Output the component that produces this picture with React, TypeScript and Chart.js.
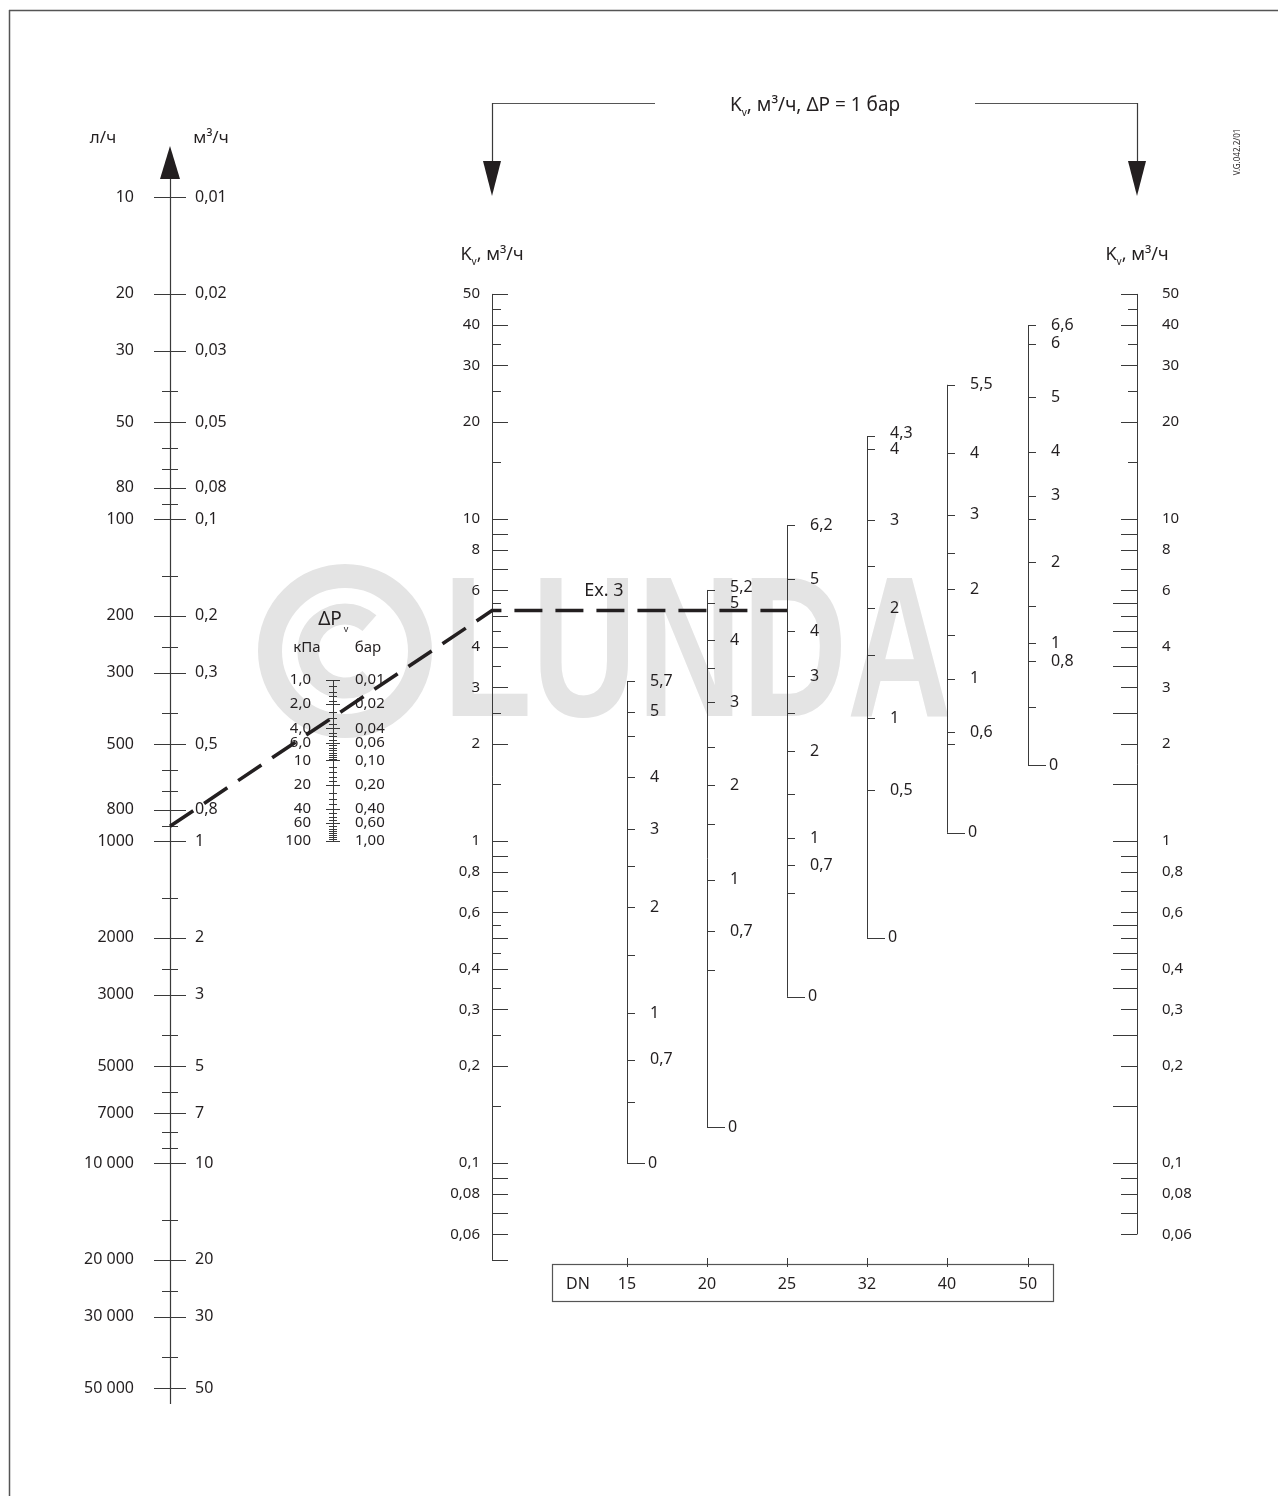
import React, { useEffect, useRef } from 'react';
import { Chart, registerables } from 'chart.js';

Chart.register(...registerables);

// ---------------- data ----------------
// Flow scale (м³/ч) with the л/ч twin labels
const FLOW_MAJOR = [0.01, 0.02, 0.03, 0.05, 0.08, 0.1, 0.2, 0.3, 0.5, 0.8, 1, 2, 3, 5, 7, 10, 20, 30, 50];
const FLOW_LABELS_LH = ['10', '20', '30', '50', '80', '100', '200', '300', '500', '800', '1000', '2000', '3000', '5000', '7000', '10 000', '20 000', '30 000', '50 000'];
const FLOW_LABELS_M3H = ['0,01', '0,02', '0,03', '0,05', '0,08', '0,1', '0,2', '0,3', '0,5', '0,8', '1', '2', '3', '5', '7', '10', '20', '30', '50'];
const FLOW_MINOR = [0.04, 0.06, 0.07, 0.09, 0.15, 0.25, 0.4, 0.6, 0.7, 0.9, 1.5, 2.5, 4, 6, 8, 9, 15, 25, 40];
const FLOW_AXIS_END = 56;

// Differential pressure scale (бар) with кПа twin labels
const DP_MAJOR = [0.01, 0.02, 0.04, 0.06, 0.1, 0.2, 0.4, 0.6, 1];
const DP_LABELS_KPA = ['1,0', '2,0', '4,0', '6,0', '10', '20', '40', '60', '100'];
const DP_LABELS_BAR = ['0,01', '0,02', '0,04', '0,06', '0,10', '0,20', '0,40', '0,60', '1,00'];
const DP_MINOR = [0.012, 0.014, 0.016, 0.018, 0.025, 0.03, 0.035, 0.045, 0.05, 0.055, 0.065, 0.07, 0.075, 0.08, 0.085, 0.09, 0.095,
  0.12, 0.14, 0.16, 0.18, 0.25, 0.3, 0.35, 0.45, 0.5, 0.55, 0.65, 0.7, 0.75, 0.8, 0.85, 0.9, 0.95];

// Kv scales (м³/ч)
const KV_TICKS = [50, 45, 40, 35, 30, 25, 20, 15, 10, 9, 8, 7, 6, 5.5, 5, 4.5, 4, 3.5, 3, 2.5, 2, 1.5, 1, 0.9, 0.8, 0.7, 0.6, 0.55, 0.5, 0.45, 0.4, 0.35, 0.3, 0.25, 0.2, 0.15, 0.1, 0.09, 0.08, 0.07, 0.06, 0.05];
const KV_LABELS = [50, 40, 30, 20, 10, 8, 6, 4, 3, 2, 1, 0.8, 0.6, 0.4, 0.3, 0.2, 0.1, 0.08, 0.06];
const KV_HALF = [45, 35, 25, 15, 5.5, 4.5, 3.5, 2.5, 1.5, 0.55, 0.45, 0.35, 0.25, 0.15];
const KV_RIGHT_LONG = [5.5, 4.5, 3.5, 2.5, 1.5, 1, 0.55, 0.45, 0.35, 0.25, 0.15, 0.1];
const KV_RIGHT_SHORT = [45, 35, 25, 15];
const KV_LEFT_RANGE = [0.05, 50];
const KV_RIGHT_RANGE = [0.06, 50];

// Valve pre-setting scales per DN: Kv at each tick and its setting label
const DN_SIZES = ['15', '20', '25', '32', '40', '50'];
const DN15_KV = [0.1, 0.155, 0.209, 0.292, 0.443, 0.624, 0.836, 1.09, 1.58, 2.12, 2.52, 3.14];
const DN15_LABELS = ['0', '', '0,7', '1', '', '2', '', '3', '4', '', '5', '5,7'];
const DN20_KV = [0.129, 0.398, 0.525, 0.757, 1.13, 1.49, 1.96, 2.7, 3.45, 4.21, 5.48, 6.02];
const DN20_LABELS = ['0', '', '0,7', '1', '', '2', '', '3', '', '4', '5', '5,2'];
const DN25_KV = [0.328, 0.69, 0.842, 1.02, 1.4, 1.9, 2.5, 3.25, 4.49, 6.51, 9.58];
const DN25_LABELS = ['0', '', '0,7', '1', '', '2', '', '3', '4', '5', '6,2'];
const DN32_KV = [0.5, 1.44, 2.41, 3.78, 5.29, 7.14, 9.93, 16.5, 18.1];
const DN32_LABELS = ['0', '0,5', '1', '', '2', '', '3', '4', '4,3'];
const DN40_KV = [1.06, 2.0, 2.18, 3.19, 4.36, 6.06, 7.84, 10.3, 16.0, 26.1];
const DN40_LABELS = ['0', '', '0,6', '1', '', '2', '', '3', '4', '5,5'];
const DN50_KV = [1.72, 2.61, 3.62, 4.12, 5.37, 7.35, 10.0, 11.8, 16.2, 23.9, 35.0, 40.0];
const DN50_LABELS = ['0', '', '0,8', '1', '', '2', '', '3', '4', '5', '6', '6,6'];

// Example 3
const EX_FLOW = 0.9; // м³/ч
const EX_DP = 0.03;  // бар
const EX_DN = '25';

// ---------------- layout ----------------
const W = 1278;
const H = 1496;
const DECADE = 322;      // px per decade on flow / Kv scales
const ONE_Y = 841;       // pixel row of value 1 on flow, Kv and ΔP scales
const DP_DECADE = DECADE / 4;
const FLOW_X = 170;
const DP_X = 333;
const KV_L_X = 492;
const KV_R_X = 1137;
const DN_X = [627, 707, 787, 867, 947, 1028];

const FONT = '"Noto Sans", "DejaVu Sans", sans-serif';
const INK = '#231f20';
const RULE = '#3a3a3a';

const fmt = (v: number) => String(v).replace('.', ',');

const nomogram = {
  id: 'nomogram',
  beforeDraw(chart: any) {
    const c = chart.ctx;
    c.save();
    c.fillStyle = '#ffffff';
    c.fillRect(0, 0, chart.width, chart.height);
    c.restore();
  },
  afterDraw(chart: any) {
    const c: CanvasRenderingContext2D = chart.ctx;
    const sx = chart.scales.x;
    const sk = chart.scales.kv;
    const sf = chart.scales.flow;
    const sd = chart.scales.dp;
    const X = (v: number) => sx.getPixelForValue(v);
    const cr = (v: number) => Math.round(v) + 0.5;

    const seg = (x1: number, y1: number, x2: number, y2: number, w = 1, col = RULE) => {
      c.save();
      c.strokeStyle = col;
      c.lineWidth = w;
      c.beginPath();
      if (x1 === x2) { c.moveTo(cr(x1), y1); c.lineTo(cr(x2), y2); }
      else if (y1 === y2) { c.moveTo(x1, cr(y1)); c.lineTo(x2, cr(y2)); }
      else { c.moveTo(x1, y1); c.lineTo(x2, y2); }
      c.stroke();
      c.restore();
    };
    const txt = (s: string, x: number, y: number, align: CanvasTextAlign = 'left', size = 16, col = INK) => {
      c.save();
      c.fillStyle = col;
      c.font = `${size}px ${FONT}`;
      c.textAlign = align;
      c.textBaseline = 'middle';
      c.fillText(s, x, y);
      c.restore();
    };
    const tri = (x: number, yTip: number, yBase: number, hw: number) => {
      c.save();
      c.fillStyle = INK;
      c.beginPath();
      c.moveTo(x, yTip);
      c.lineTo(x - hw, yBase);
      c.lineTo(x + hw, yBase);
      c.closePath();
      c.fill();
      c.restore();
    };
    // "K" with subscript v, followed by rest, centred on cx
    const kvText = (cx: number, cy: number, size: number, rest: string) => {
      c.save();
      c.fillStyle = INK;
      c.textBaseline = 'middle';
      c.textAlign = 'left';
      c.font = `${size}px ${FONT}`;
      const wK = c.measureText('K').width;
      const wR = c.measureText(rest).width;
      c.font = `${Math.round(size * 0.55)}px ${FONT}`;
      const wV = c.measureText('v').width;
      let x = cx - (wK + wV + wR) / 2;
      c.font = `${size}px ${FONT}`;
      c.fillText('K', x, cy);
      x += wK;
      c.font = `${Math.round(size * 0.55)}px ${FONT}`;
      c.fillText('v', x, cy + size * 0.38);
      x += wV;
      c.font = `${size}px ${FONT}`;
      c.fillText(rest, x, cy);
      c.restore();
    };

    // ---- watermark ----
    c.save();
    c.strokeStyle = '#e4e4e4';
    c.fillStyle = '#e4e4e4';
    c.lineWidth = 24;
    c.beginPath();
    c.arc(345, 651, 75, 0, Math.PI * 2);
    c.stroke();
    c.lineWidth = 21;
    c.beginPath();
    c.arc(345, 651, 37, Math.PI * 0.27, Math.PI * 1.73);
    c.stroke();
    c.font = 'bold 200px "Liberation Sans", Arial, sans-serif';
    c.textBaseline = 'alphabetic';
    const wl = c.measureText('LUNDA').width;
    c.translate(443, 716);
    c.scale(509 / wl, 1);
    c.fillText('LUNDA', 0, 0);
    c.restore();

    // ---- frame ----
    seg(9, 10, W, 10, 1.5, '#555');
    seg(9, 10, 9, H, 1.5, '#555');

    // ---- flow axis ----
    const fx = X(FLOW_X);
    const fTop = sf.getPixelForValue(FLOW_MAJOR[0]);
    seg(fx, fTop - 20, fx, sf.getPixelForValue(FLOW_AXIS_END), 1.2);
    tri(fx, fTop - 51, fTop - 18, 10);
    FLOW_MAJOR.forEach((v, i) => {
      const y = sf.getPixelForValue(v);
      seg(fx - 16, y, fx + 16, y);
      txt(FLOW_LABELS_LH[i], fx - 36, y, 'right');
      txt(FLOW_LABELS_M3H[i], fx + 25, y, 'left');
    });
    FLOW_MINOR.forEach((v) => {
      const y = sf.getPixelForValue(v);
      seg(fx - 8, y, fx + 8, y);
    });
    txt('л/ч', fx - 67, fTop - 59, 'center', 17);
    txt('м³/ч', fx + 41, fTop - 59, 'center', 17);

    // ---- ΔP axis ----
    const dx = X(DP_X);
    const dTop = sd.getPixelForValue(DP_MAJOR[0]);
    seg(dx, dTop, dx, sd.getPixelForValue(DP_MAJOR[DP_MAJOR.length - 1]));
    DP_MAJOR.forEach((v, i) => {
      const y = sd.getPixelForValue(v);
      seg(dx - 7, y, dx + 7, y);
      txt(DP_LABELS_KPA[i], dx - 22, y, 'right', 15);
      txt(DP_LABELS_BAR[i], dx + 22, y, 'left', 15);
    });
    DP_MINOR.forEach((v) => {
      const y = sd.getPixelForValue(v);
      seg(dx - 4, y, dx + 4, y);
    });
    c.save();
    c.fillStyle = INK;
    c.font = `19px ${FONT}`;
    c.textBaseline = 'middle';
    c.textAlign = 'left';
    const wdp = c.measureText('ΔP').width;
    c.fillText('ΔP', dx - wdp / 2 - 3, dTop - 60);
    c.font = `9px ${FONT}`;
    c.fillText('v', dx + wdp / 2 - 1, dTop - 51);
    c.restore();
    txt('кПа', dx - 26, dTop - 32, 'center', 15);
    txt('бар', dx + 35, dTop - 32, 'center', 15);

    // ---- Kv axis, left ----
    const kl = X(KV_L_X);
    seg(kl, sk.getPixelForValue(KV_LEFT_RANGE[0]), kl, sk.getPixelForValue(KV_LEFT_RANGE[1]));
    KV_TICKS.filter((v) => v >= KV_LEFT_RANGE[0] && v <= KV_LEFT_RANGE[1]).forEach((v) => {
      const y = sk.getPixelForValue(v);
      seg(kl, y, kl + (KV_HALF.includes(v) ? 9 : 16), y);
    });
    KV_LABELS.forEach((v) => txt(fmt(v), kl - 12, sk.getPixelForValue(v), 'right', 15));
    kvText(kl, sk.getPixelForValue(KV_LEFT_RANGE[1]) - 39, 18, ', м³/ч');

    // ---- Kv axis, right ----
    const kr = X(KV_R_X);
    seg(kr, sk.getPixelForValue(KV_RIGHT_RANGE[0]), kr, sk.getPixelForValue(KV_RIGHT_RANGE[1]));
    KV_TICKS.filter((v) => v >= KV_RIGHT_RANGE[0] && v <= KV_RIGHT_RANGE[1]).forEach((v) => {
      const y = sk.getPixelForValue(v);
      const len = KV_RIGHT_LONG.includes(v) ? 24 : KV_RIGHT_SHORT.includes(v) ? 9 : 16;
      seg(kr - len, y, kr, y);
    });
    KV_LABELS.forEach((v) => txt(fmt(v), kr + 25, sk.getPixelForValue(v), 'left', 15));
    kvText(kr, sk.getPixelForValue(KV_RIGHT_RANGE[1]) - 39, 18, ', м³/ч');

    // ---- DN pre-setting columns ----
    const cols = [
      [DN15_KV, DN15_LABELS], [DN20_KV, DN20_LABELS], [DN25_KV, DN25_LABELS],
      [DN32_KV, DN32_LABELS], [DN40_KV, DN40_LABELS], [DN50_KV, DN50_LABELS],
    ] as [number[], string[]][];
    cols.forEach(([kvs, labels], i) => {
      const x = X(DN_X[i]);
      const ys = kvs.map((v) => sk.getPixelForValue(v));
      seg(x, ys[0], x, ys[ys.length - 1]);
      ys.forEach((y, j) => {
        const bottom = j === 0;
        seg(x, y, x + (bottom ? 18 : 8), y);
        let ly = y;
        if (j === ys.length - 1 && ys.length > 1) {
          const gap = ys[j - 1] - y;
          if (gap < 16) ly -= 16 - gap;
        }
        if (labels[j]) txt(labels[j], x + (bottom ? 21 : 23), ly, 'left', 16);
      });
    });

    // ---- DN box ----
    const bx1 = X(552), bx2 = X(1053);
    c.save();
    c.strokeStyle = '#555';
    c.lineWidth = 1.2;
    c.strokeRect(cr(bx1), cr(1264), Math.round(bx2 - bx1), 37);
    c.restore();
    txt('DN', X(578), 1284, 'center', 16);
    DN_SIZES.forEach((s, i) => {
      const x = X(DN_X[i]);
      seg(x, 1258, x, 1267);
      txt(s, x, 1284, 'center', 16);
    });

    // ---- top bracket ----
    seg(kl, 103, X(655), 103, 1.2, '#555');
    seg(X(975), 103, kr, 103, 1.2, '#555');
    seg(kl, 103, kl, 163, 1.2);
    seg(kr, 103, kr, 163, 1.2);
    tri(kl, 196, 161, 9);
    tri(kr, 196, 161, 9);
    kvText(815, 106, 19, ', м³/ч, ΔP = 1 бар');

    // ---- code text ----
    c.save();
    c.translate(1238, 152);
    c.rotate(-Math.PI / 2);
    c.fillStyle = INK;
    c.font = `8px ${FONT}`;
    c.textAlign = 'center';
    c.textBaseline = 'middle';
    c.fillText('V.G.042.2/01', 0, 0);
    c.restore();

    // ---- Example 3 line ----
    const exKv = EX_FLOW / Math.sqrt(EX_DP);
    const yQ = sf.getPixelForValue(EX_FLOW);
    const yK = sk.getPixelForValue(exKv);
    const xDn = X(DN_X[DN_SIZES.indexOf(EX_DN)]);
    c.save();
    c.strokeStyle = INK;
    c.lineWidth = 3.6;
    c.setLineDash([28, 13]);
    c.beginPath();
    c.moveTo(fx, yQ);
    c.lineTo(kl, yK);
    c.lineTo(xDn, yK);
    c.stroke();
    c.restore();
    txt('Ex. 3', X(604), 591, 'center', 18);
  },
};

export default function App() {
  const ref = useRef<HTMLCanvasElement | null>(null);
  useEffect(() => {
    document.body.style.margin = '0';
    const chart = new Chart(ref.current as HTMLCanvasElement, {
      type: 'scatter',
      data: { datasets: [] },
      options: {
        animation: false,
        responsive: true,
        maintainAspectRatio: false,
        layout: { padding: 0 },
        events: [],
        plugins: { legend: { display: false }, title: { display: false }, tooltip: { enabled: false } },
        scales: {
          x: { type: 'linear', display: false, min: 0, max: W, bounds: 'data' },
          kv: {
            axis: 'y', type: 'logarithmic', display: false, bounds: 'data',
            min: Math.pow(10, -(H - ONE_Y) / DECADE), max: Math.pow(10, ONE_Y / DECADE),
          },
          flow: {
            axis: 'y', type: 'logarithmic', display: false, reverse: true, bounds: 'data',
            min: Math.pow(10, -ONE_Y / DECADE), max: Math.pow(10, (H - ONE_Y) / DECADE),
          },
          dp: {
            axis: 'y', type: 'logarithmic', display: false, reverse: true, bounds: 'data',
            min: Math.pow(10, -ONE_Y / DP_DECADE), max: Math.pow(10, (H - ONE_Y) / DP_DECADE),
            afterBuildTicks: (s: any) => { s.ticks = [{ value: s.min }, { value: s.max }]; },
          },
        },
      } as any,
      plugins: [nomogram],
    });
    return () => chart.destroy();
  }, []);
  return (
    <div style={{ position: 'relative', width: W, height: H }}>
      <canvas ref={ref} />
    </div>
  );
}
